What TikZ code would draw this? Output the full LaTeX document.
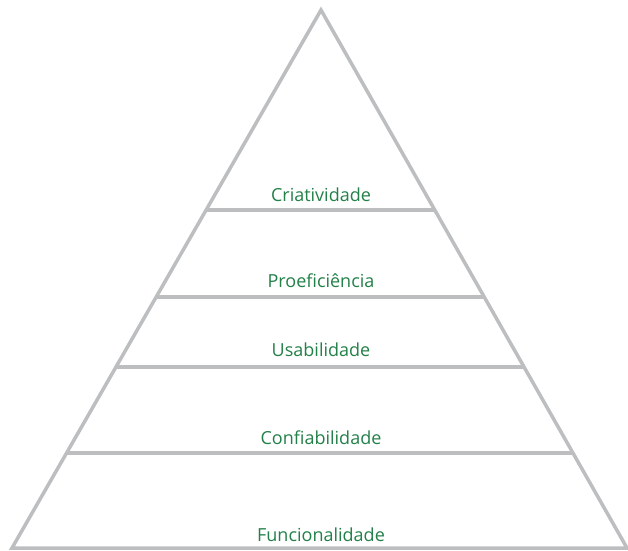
\documentclass[tikz,border=0pt]{standalone}
\usepackage{fontspec}
\setmainfont{Open Sans}
\usetikzlibrary{calc}
\definecolor{pyrgray}{RGB}{188,190,192}
\definecolor{pyrgreen}{RGB}{34,128,72}
\tikzset{
  pyrline/.style={draw=pyrgray,line width=3.5pt,line join=miter},
  lvlline/.style={draw=pyrgray,line width=3.5pt},
  lbl/.style={font=\fontsize{18}{21}\selectfont,text=pyrgreen,anchor=base,inner sep=0pt}
}
\begin{document}
\begin{tikzpicture}[x=1pt,y=-1pt]
  \useasboundingbox (0,0) rectangle (628,550);
  % pyramid outline
  \coordinate (apex) at (321,10);
  \coordinate (bl) at (12,548);
  \coordinate (br) at (627,548);
  \draw[pyrline] (bl) -- (apex) -- (br) -- cycle;

  % level lines
  \draw[lvlline] ($(apex)!0.3717!(bl)$) -- ($(apex)!0.3717!(br)$);
  \draw[lvlline] ($(apex)!0.5335!(bl)$) -- ($(apex)!0.5335!(br)$);
  \draw[lvlline] ($(apex)!0.6636!(bl)$) -- ($(apex)!0.6636!(br)$);
  \draw[lvlline] ($(apex)!0.8234!(bl)$) -- ($(apex)!0.8234!(br)$);

  % labels
  \node[lbl] (criat) at (321,201) {Criatividade};
  \node[lbl] (profic) at (321,287) {Proeficiência};
  \node[lbl] (usab) at (321,356) {Usabilidade};
  \node[lbl] (confia) at (321,444) {Confiabilidade};
  \node[lbl] (func) at (321,541) {Funcionalidade};
\end{tikzpicture}
\end{document}
